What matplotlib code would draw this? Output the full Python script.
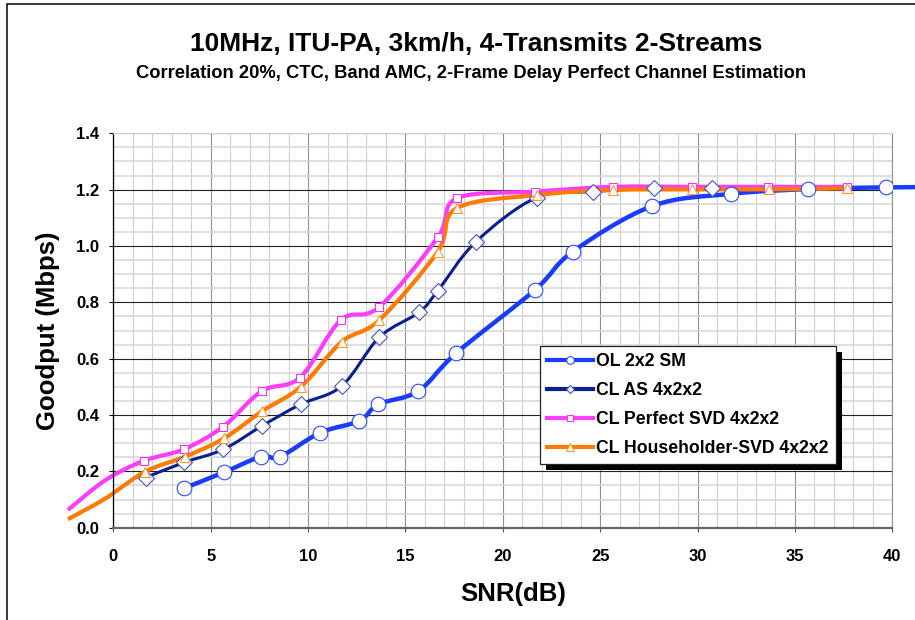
"""Goodput vs SNR for 4-transmit 2-stream MIMO schemes (Excel-style chart)."""
import numpy as np
import matplotlib
matplotlib.use("Agg")
import matplotlib.pyplot as plt
from matplotlib.path import Path
from matplotlib.patches import PathPatch, Rectangle
from matplotlib.lines import Line2D

plt.rcParams['font.family'] = ['Liberation Sans', 'DejaVu Sans']
plt.rcParams['font.weight'] = 'bold'

# ---- data (SNR dB, goodput Mbps) ----
ol_x = [3.63, 5.69, 7.57, 8.56, 10.61, 12.63, 13.61, 15.66, 17.61, 21.65, 23.59, 27.68, 31.70, 35.69, 39.66, 43.66]
ol_y = [0.140, 0.197, 0.252, 0.252, 0.337, 0.379, 0.438, 0.485, 0.620, 0.844, 0.980, 1.142, 1.185, 1.202, 1.208, 1.210]

as_x = [1.66, 3.65, 5.65, 7.65, 9.62, 11.73, 13.66, 15.71, 16.66, 18.62, 21.74, 24.65, 27.76, 30.76]
as_y = [0.178, 0.232, 0.278, 0.362, 0.438, 0.503, 0.676, 0.765, 0.841, 1.015, 1.172, 1.193, 1.205, 1.205]

svd_x = [-2.33, -0.40, 1.58, 3.61, 5.65, 7.62, 9.59, 11.68, 13.63, 16.66, 17.63, 21.65, 25.67, 29.70, 33.63, 37.69]
svd_y = [0.063, 0.169, 0.238, 0.278, 0.359, 0.485, 0.533, 0.737, 0.782, 1.031, 1.169, 1.193, 1.210, 1.210, 1.210, 1.210]

hh_x = [-2.33, -0.40, 1.63, 3.68, 5.68, 7.65, 9.64, 11.73, 13.66, 16.66, 17.63, 21.74, 25.67, 29.70, 33.68, 37.69]
hh_y = [0.030, 0.104, 0.199, 0.252, 0.317, 0.414, 0.501, 0.660, 0.737, 0.980, 1.134, 1.181, 1.199, 1.201, 1.201, 1.205]

labels = ['OL 2x2 SM', 'CL AS 4x2x2', 'CL Perfect SVD 4x2x2', 'CL Householder-SVD 4x2x2']
title = '10MHz, ITU-PA, 3km/h, 4-Transmits 2-Streams'
subtitle = 'Correlation 20%, CTC, Band AMC, 2-Frame Delay Perfect Channel Estimation'


def smooth_path(x, y):
    """Excel-like smoothed line: Catmull-Rom segments as cubic Beziers."""
    p = np.column_stack([x, y]).astype(float)
    n = len(p)
    verts, codes = [p[0]], [Path.MOVETO]
    for i in range(n - 1):
        p0, p1, p2, p3 = p[max(i - 1, 0)], p[i], p[i + 1], p[min(i + 2, n - 1)]
        verts += [p1 + (p2 - p0) / 6, p2 - (p3 - p1) / 6, p2]
        codes += [Path.CURVE4] * 3
    return Path(verts, codes)


fig = plt.figure(figsize=(9.15, 6.2), dpi=100)
ax = fig.add_axes([113.3 / 915, 92.3 / 620, 779 / 915, 394.4 / 620])
ax.set_xlim(0, 40)
ax.set_ylim(0, 1.4)

# series: (x, y, line colour, lw, marker, ms, marker edge, first marked index)
series = [
    (ol_x, ol_y, '#1a3cff', 3.2, 'o', 10.5, '#2a4cff', 0),
    (as_x, as_y, '#0c1f8c', 2.2, 'D', 8.0, '#4455b5', 0),
    (svd_x, svd_y, '#ff3dff', 3.0, 's', 5.6, '#ff30ff', 2),
    (hh_x, hh_y, '#ff7a00', 3.0, '^', 7.4, '#ff9a30', 2),
]
for x, y, c, lw, m, ms, mec, k in series:
    ax.add_patch(PathPatch(smooth_path(x, y), fill=False, ec=c, lw=lw,
                           joinstyle='round', capstyle='butt', clip_on=False, zorder=2))
for x, y, c, lw, m, ms, mec, k in series:
    ax.plot(x[k:], y[k:], ls='none', marker=m, ms=ms, mfc='white', mec=mec,
            mew=0.8, zorder=3)

# grid
ax.set_axisbelow(True)
ax.set_xticks(np.arange(0, 41, 5))
ax.set_xticks(np.arange(0, 41, 1), minor=True)
ax.set_yticks(np.arange(0, 1.41, 0.2))
ax.set_yticks(np.arange(0, 1.41, 0.05), minor=True)
ax.xaxis.grid(True, which='minor', color='#cfcfcf', lw=0.8)
ax.xaxis.grid(True, which='major', color='#8f8f8f', lw=0.8)
ax.yaxis.grid(True, which='minor', color='#d6d6d6', lw=1.1)
ax.yaxis.grid(True, which='major', color='#222222', lw=0.8)
ax.tick_params(which='minor', length=0)
ax.tick_params(axis='x', which='major', length=3, width=0.8, color='#555555', pad=12, labelsize=12)
ax.tick_params(axis='y', which='major', length=3, width=0.8, color='black', pad=7, labelsize=12)
ax.set_yticklabels([f'{v:.1f}' for v in np.arange(0, 1.41, 0.2)])
for lab in ax.get_xticklabels() + ax.get_yticklabels():
    lab.set_fontweight('bold')

ax.spines['left'].set_color('black'); ax.spines['left'].set_linewidth(0.9)
ax.spines['bottom'].set_color('#666666'); ax.spines['bottom'].set_linewidth(1.6)
ax.spines['top'].set_color('#cfcfcf'); ax.spines['top'].set_linewidth(0.8)
ax.spines['right'].set_color('#8f8f8f'); ax.spines['right'].set_linewidth(0.8)

# titles and axis labels
fig.text(476.5 / 915, 1 - 44 / 620, title, ha='center', va='center', fontsize=19, weight='bold')
fig.text(471.5 / 915, 1 - 74 / 620, subtitle, ha='center', va='center', fontsize=13.2, weight='bold')
fig.text(48 / 915, 1 - 331 / 620, 'Goodput (Mbps)', rotation=90, ha='center', va='center',
         fontsize=18.5, weight='bold')
fig.text(513 / 915, 1 - 594 / 620, 'SNR(dB)', ha='center', va='center', fontsize=18.5, weight='bold')

# legend with a solid black drop shadow
handles = [
    Line2D([], [], color='#1a3cff', lw=3, marker='o', ms=5.5, mfc='white', mec='#2a4cff', mew=0.8),
    Line2D([], [], color='#0c1f8c', lw=3, marker='D', ms=4.2, mfc='white', mec='#4455b5', mew=0.8),
    Line2D([], [], color='#ff3dff', lw=3, marker='s', ms=4.2, mfc='white', mec='#ff30ff', mew=0.8),
    Line2D([], [], color='#ff7a00', lw=3, marker='^', ms=5.5, mfc='white', mec='#ff9a30', mew=0.8),
]
leg = ax.legend(handles, labels, loc='upper left', bbox_to_anchor=((540 - 113.3) / 779, (527.7 - 346) / 394.4),
                borderaxespad=0, borderpad=0.4, handlelength=2.6, handletextpad=0.2,
                labelspacing=0.68, fancybox=False, framealpha=1,
                edgecolor='#222222', prop={'weight': 'bold', 'size': 12.7})
leg.get_frame().set_linewidth(0.9)

fig.canvas.draw()
bb = leg.get_window_extent().transformed(ax.transAxes.inverted())
dx, dy = 6 / 779, 6 / 394.4
ax.add_patch(Rectangle((bb.x0 + dx, bb.y0 - dy), bb.width, bb.height, transform=ax.transAxes,
                       fc='black', ec='none', zorder=4.9, clip_on=False))

# chart-area border (cropped on right and bottom)
fig.add_artist(Rectangle((7 / 915, -0.1), 1.2, 1.1 - 4 / 620, transform=fig.transFigure,
                         fill=False, ec='black', lw=1.1))

fig.savefig('out.png', dpi=100)
